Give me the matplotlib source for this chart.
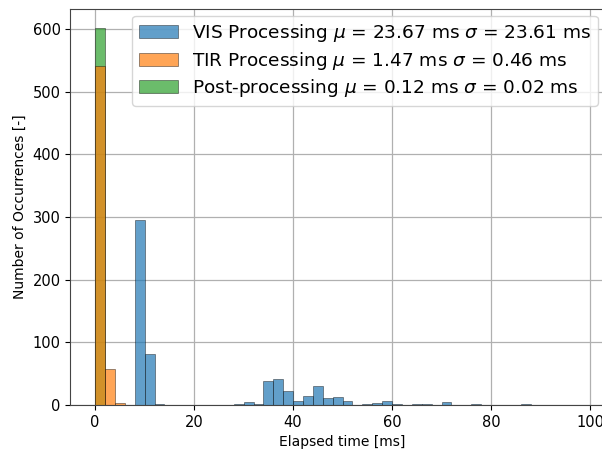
import numpy as np
import matplotlib
matplotlib.use('Agg')
import matplotlib.pyplot as plt

# Histogram counts per 2 ms bin
binEdges = np.arange(0, 102, 2)
binCenters = binEdges[:-1] + 1

visCounts = [0, 0, 0, 0, 295, 81, 1, 0, 0, 0,
             0, 0, 0, 0, 1, 4, 1, 39, 41, 23,
             7, 15, 30, 11, 13, 7, 0, 2, 3, 7,
             1, 0, 1, 2, 0, 4, 0, 0, 1, 0,
             0, 0, 0, 1, 0, 0, 0, 0, 0, 0]
tirCounts = [541, 58, 3] + [0] * 47
postCounts = [601] + [0] * 49

labels = [r'VIS Processing $\mu$ = 23.67 ms $\sigma$ = 23.61 ms',
          r'TIR Processing $\mu$ = 1.47 ms $\sigma$ = 0.46 ms',
          r'Post-processing $\mu$ = 0.12 ms $\sigma$ = 0.02 ms']
colors = ['C0', 'C1', 'C2']
zorders = [2.0, 2.2, 2.1]

fig = plt.figure(figsize=(6.02, 4.5), dpi=100)
ax = fig.add_axes([70.4 / 602, 1 - 405 / 450, (614.8 - 70.4) / 602, (405 - 9) / 450])

for counts, label, color, z in zip([visCounts, tirCounts, postCounts], labels, colors, zorders):
    ax.hist(binCenters, bins=binEdges, weights=counts, color=color, alpha=0.7,
            edgecolor='k', linewidth=0.4, label=label, zorder=z)

ax.set_xlim(-5, 105)
ax.set_ylim(0, 632)
ax.grid(True, color='#b0b0b0', linewidth=0.9)
ax.set_axisbelow(True)
ax.tick_params(labelsize=10.5)
ax.set_xlabel('Elapsed time [ms]', fontsize=10)
ax.set_ylabel('Number of Occurrences [-]', fontsize=10)
for sp in ax.spines.values():
    sp.set_color('#444444')

ax.legend(loc='upper right', bbox_to_anchor=(598 / 602, 1 - 15.7 / 450),
          bbox_transform=fig.transFigure, borderaxespad=0, fontsize=13.3,
          labelspacing=0.3, handlelength=2.1, borderpad=0.35)

fig.savefig('out.png', dpi=100)
